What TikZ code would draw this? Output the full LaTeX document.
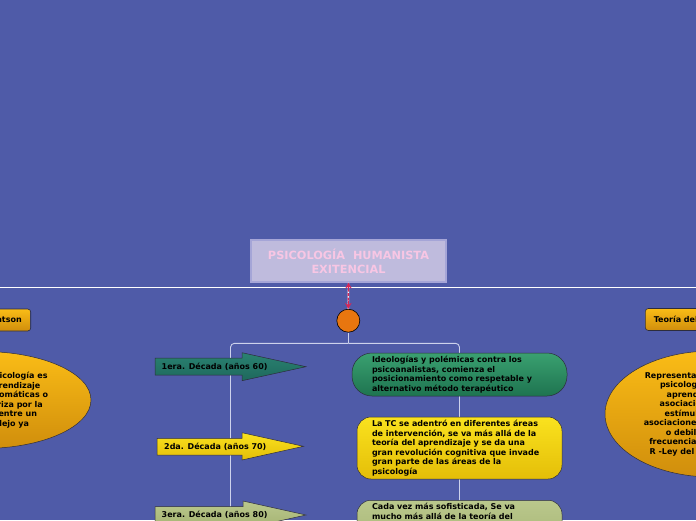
\documentclass[tikz,border=0pt]{standalone}
\usepackage{fontspec}
\setmainfont{DejaVu Sans}
\usetikzlibrary{arrows.meta,calc,positioning,shapes.geometric}

\definecolor{fondo}{RGB}{79,91,168}
\definecolor{tituloborde}{RGB}{165,165,215}
\definecolor{titulofondo}{RGB}{191,187,221}
\definecolor{titulotexto}{RGB}{248,198,228}
\definecolor{naranja}{RGB}{232,118,15}
\definecolor{ramacolor}{RGB}{205,210,236}
\definecolor{rojo}{RGB}{214,38,88}
\definecolor{borde}{RGB}{45,45,60}
\definecolor{tealA}{RGB}{42,130,113}
\definecolor{tealB}{RGB}{30,104,92}
\definecolor{amarA}{RGB}{250,226,30}
\definecolor{amarB}{RGB}{228,190,8}
\definecolor{salvA}{RGB}{186,200,140}
\definecolor{salvB}{RGB}{164,178,114}
\definecolor{verdeA}{RGB}{58,160,112}
\definecolor{verdeB}{RGB}{30,116,80}
\definecolor{oroA}{RGB}{250,188,22}
\definecolor{oroB}{RGB}{208,142,12}

\begin{document}
\begin{tikzpicture}[
    x=1pt,
    y=-1pt,
    titulo/.style={draw=tituloborde, line width=1.2pt, fill=titulofondo, minimum width=195pt, minimum height=42pt, align=center, text=titulotexto, font=\fontsize{11.3}{14}\selectfont\bfseries},
    etiqueta/.style={inner sep=0pt, font=\fontsize{8}{9.5}\selectfont\bfseries},
    caja/.style={draw=borde, line width=0.5pt, rounded corners=14pt, align=left, text width=175pt, minimum width=205pt, inner xsep=15pt, inner ysep=3pt, font=\fontsize{8}{9.5}\selectfont\bfseries},
    tema/.style={draw=borde, line width=0.6pt, rounded corners=3pt, top color=oroA, bottom color=oroB, minimum height=22pt, inner ysep=0pt, font=\fontsize{8}{9.5}\selectfont\bfseries},
    nube/.style={ellipse, draw=borde, line width=0.5pt, top color=oroA, bottom color=oroB, inner sep=0pt, align=center, font=\fontsize{8}{9.5}\selectfont\bfseries},
    flecha/.style={draw=borde, line width=0.5pt, line join=miter},
    rama/.style={draw=ramacolor, line width=0.9pt, rounded corners=4pt},
    enlace/.style={draw=rojo, line width=1.4pt, dash pattern=on 3pt off 1.5pt},
    punta/.style={draw=rojo, line width=1.2pt, -{Stealth[length=6pt,width=6.5pt]}}
]
\useasboundingbox (0,0) rectangle (696,520);
\clip (0,0) rectangle (696,520);
\fill[fondo] (0,0) rectangle (696,520);

% separador
\draw[white, line width=1.5pt] (0,287.5) -- (696,287.5);

\node[titulo] (titulo) at (348.5,261) {PSICOLOGÍA\ \ HUMANISTA\\EXITENCIAL};
\node[circle, draw=black, line width=0.6pt, fill=naranja, minimum size=23pt, inner sep=0pt] (centro) at (348.3,320.7) {};

% enlace titulo - centro
\draw[white, line width=1.4pt] (titulo.south) -- (centro.north);
\draw[enlace] ([yshift=-6pt]titulo.south) -- ([yshift=6pt]centro.north);
\draw[punta] ([yshift=-8pt]titulo.south) -- (titulo.south);
\draw[punta] ([yshift=8pt]centro.north) -- (centro.north);

% ramas
\coordinate (nudo) at (348.3,343.3);
\coordinate (izq) at (230.5,520);
\coordinate (der) at (459.5,520);
\draw[rama] (centro.south) -- (nudo);
\draw[rama] (nudo) -| (izq);
\draw[rama] (nudo) -| (der);

% decadas
\path[flecha, top color=tealA, bottom color=tealB] (155,358) -- (242,358) -- (242,352.7) -- (306,366.7) -- (242,380.7) -- (242,375) -- (155,375) -- cycle;
\node[etiqueta, anchor=west] (d60) at (161.5,366.5) {1era. Década (años 60)};

\path[flecha, top color=amarA, bottom color=amarB] (157,438.3) -- (242,438.3) -- (242,432.7) -- (303.5,446.3) -- (242,460) -- (242,455) -- (157,455) -- cycle;
\node[etiqueta, anchor=west] (d70) at (164,446.5) {2da. Década (años 70)};

\path[flecha, top color=salvA, bottom color=salvB] (155,506.5) -- (243,506.5) -- (243,501) -- (306,515) -- (243,529) -- (243,523.5) -- (155,523.5) -- cycle;
\node[etiqueta, anchor=west] (d80) at (161.5,515) {3era. Década (años 80)};

% ideas
\node[caja, top color=verdeA, bottom color=verdeB, minimum width=215pt, minimum height=43pt, rounded corners=20pt] (idea60) at (459.5,374.5) {Ideologías y polémicas contra los\\psicoanalistas, comienza el\\posicionamiento como respetable y\\alternativo método terapéutico};
\node[caja, top color=amarA, bottom color=amarB, minimum height=62pt] (idea70) at (459.5,448) {La TC se adentró en diferentes áreas\\de intervención, se va más allá de la\\teoría del aprendizaje y se da una\\gran revolución cognitiva que invade\\gran parte de las áreas de la\\psicología};
\node[caja, top color=salvA, bottom color=salvB, anchor=north, text depth=40pt] (idea80) at (459.5,500) {Cada vez más sofisticada, Se va\\mucho más allá de la teoría del};

% laterales
\node[tema, anchor=east, inner xsep=9pt] (watson) at (31,320) {Watson};
\node[nube, minimum width=216pt, minimum height=97pt] (nubeizq) at (-17,400) {Para Watson la psicología es\\la ciencia del aprendizaje\\de respuestas automáticas o\\y que se caracteriza por la\\una asociación entre un\\estímulo y reflejo ya};

\node[tema, anchor=west, inner xsep=8.5pt] (teoria) at (645,319.5) {Teoría del Conexionismo};
\node[nube, minimum width=214pt, minimum height=126pt] (nubeder) at (712,414) {Representante de la moderna\\psicología estudiaba el\\aprendizaje como la\\asociación entre varios\\estímulo y respuesta\\asociaciones que se refuerzan\\o debilitan, según la\\frecuencia de la relación E -\\R -Ley del efecto y ejercicio};
\end{tikzpicture}
\end{document}
